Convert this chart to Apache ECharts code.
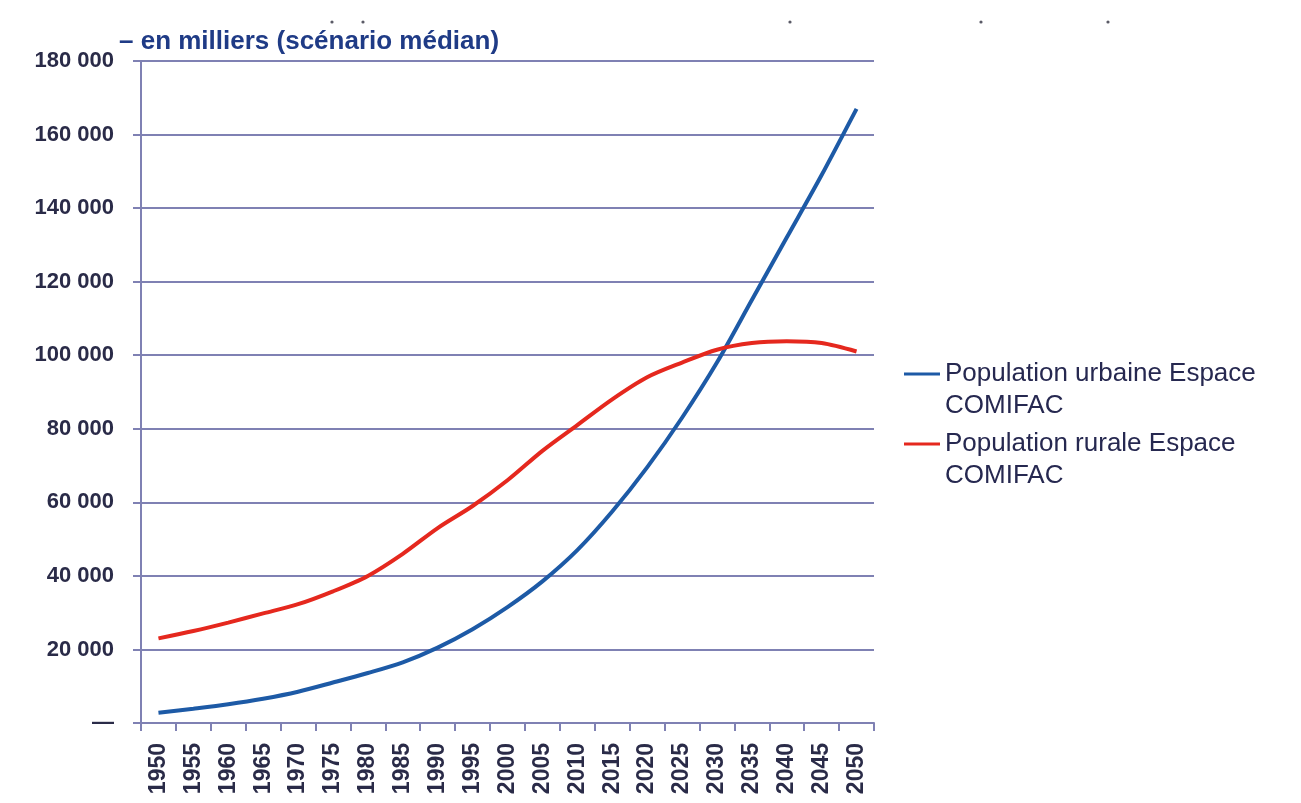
<!DOCTYPE html>
<html>
<head>
<meta charset="utf-8">
<script src="https://cdn.jsdelivr.net/npm/echarts@6/dist/echarts.min.js"></script>
<style>
  html, body { margin: 0; padding: 0; background: #ffffff; }
  #chart { width: 1301px; height: 803px; }
</style>
</head>
<body>
<div id="chart"></div>
<script>
// Years (step of 5)
const years = ['1950','1955','1960','1965','1970','1975','1980','1985','1990','1995','2000',
               '2005','2010','2015','2020','2025','2030','2035','2040','2045','2050'];

// Population, thousands
const urbaine = [2800, 3900, 5100, 6600, 8500, 11000, 13600, 16500, 20500, 25500, 31500,
                 38500, 47000, 57500, 69500, 83000, 98000, 115000, 132000, 149000, 167000];
const rurale  = [23000, 25000, 27300, 29800, 32300, 35800, 40000, 46000, 53000, 59000, 66000,
                 74000, 81000, 88000, 94000, 98000, 101500, 103300, 103800, 103300, 101000];

const seriesNames = ['Population urbaine Espace COMIFAC', 'Population rurale Espace COMIFAC'];
const titleText = '– en milliers (scénario médian)';

const gridColor = '#7f81b3';
const labelColor = '#2a2b48';
const fontFamily = 'Liberation Sans, Arial, sans-serif';

function fmtThousands(v) {
  if (v === 0) return '—';
  return String(v).replace(/\B(?=(\d{3})+(?!\d))/g, ' ');
}

// Legend label: an empty first line keeps the icon level with the name's first line
function legendLabel(n) {
  return '\n' + n.replace(' COMIFAC', '\nCOMIFAC');
}

const legendText = {
  color: '#262850',
  fontSize: 26,
  fontFamily: fontFamily,
  lineHeight: 32
};

function legendAt(name, top) {
  return {
    data: [name],
    orient: 'vertical',
    left: 899,
    top: top,
    icon: 'rect',
    itemWidth: 36,
    itemHeight: 3,
    itemGap: 0,
    formatter: legendLabel,
    textStyle: legendText
  };
}

// small dots left over along the top edge
function dot(x, y) {
  return { type: 'circle', shape: { cx: x, cy: y, r: 1.6 }, style: { fill: '#5a5a66' }, silent: true };
}

const chart = echarts.init(document.getElementById('chart'), null, { renderer: 'canvas' });
chart.setOption({
  backgroundColor: '#ffffff',
  animation: false,
  title: {
    text: titleText,
    left: 114,
    top: 24,
    textStyle: {
      color: '#1f3b86',
      fontSize: 26,
      fontWeight: 'bold',
      fontFamily: fontFamily
    }
  },
  graphic: [dot(332, 22), dot(363, 22), dot(790, 22), dot(981, 22), dot(1108, 22)],
  legend: [legendAt(seriesNames[0], 321), legendAt(seriesNames[1], 391)],
  grid: { left: 141, right: 427, top: 61, bottom: 80, containLabel: false },
  xAxis: {
    type: 'category',
    data: years,
    boundaryGap: true,
    axisLine: { show: true, lineStyle: { color: gridColor, width: 2 } },
    axisTick: { show: true, alignWithLabel: false, length: 8, lineStyle: { color: gridColor, width: 2 } },
    axisLabel: {
      rotate: 90,
      margin: 20,
      interval: 0,
      color: labelColor,
      fontSize: 23,
      fontWeight: 'bold',
      fontFamily: fontFamily
    },
    splitLine: { show: false }
  },
  yAxis: {
    type: 'value',
    min: 0,
    max: 180000,
    interval: 20000,
    axisLine: { show: true, lineStyle: { color: gridColor, width: 2 } },
    axisTick: { show: true, length: 8, lineStyle: { color: gridColor, width: 2 } },
    axisLabel: {
      margin: 27,
      color: labelColor,
      fontSize: 22,
      fontWeight: 'bold',
      fontFamily: fontFamily,
      formatter: fmtThousands
    },
    splitLine: { show: true, lineStyle: { color: gridColor, width: 2 } }
  },
  series: [
    {
      name: seriesNames[0],
      type: 'line',
      data: urbaine,
      smooth: 0.3,
      showSymbol: false,
      symbol: 'none',
      color: '#1d5aa6',
      lineStyle: { color: '#1d5aa6', width: 4 }
    },
    {
      name: seriesNames[1],
      type: 'line',
      data: rurale,
      smooth: 0.3,
      showSymbol: false,
      symbol: 'none',
      color: '#e5281e',
      lineStyle: { color: '#e5281e', width: 4 }
    }
  ]
});
</script>
</body>
</html>
